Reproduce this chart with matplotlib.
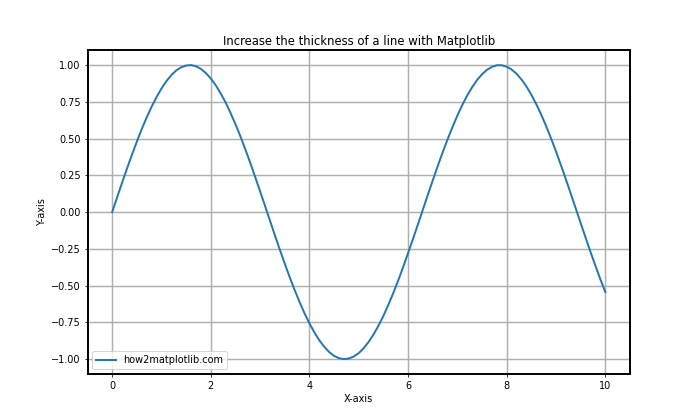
import matplotlib.pyplot as plt

# Values
x_vals = [0.0, 0.1, 0.2, 0.3, 0.4, 0.5, 0.6, 0.7, 0.8, 0.9,
          1.0, 1.1, 1.2, 1.3, 1.4, 1.5, 1.6, 1.7, 1.8, 1.9,
          2.0, 2.1, 2.2, 2.3, 2.4, 2.5, 2.6, 2.7, 2.8, 2.9,
          3.0, 3.1, 3.2, 3.3, 3.4, 3.5, 3.6, 3.7, 3.8, 3.9,
          4.0, 4.1, 4.2, 4.3, 4.4, 4.5, 4.6, 4.7, 4.8, 4.9,
          5.0, 5.1, 5.2, 5.3, 5.4, 5.5, 5.6, 5.7, 5.8, 5.9,
          6.0, 6.1, 6.2, 6.3, 6.4, 6.5, 6.6, 6.7, 6.8, 6.9,
          7.0, 7.1, 7.2, 7.3, 7.4, 7.5, 7.6, 7.7, 7.8, 7.9,
          8.0, 8.1, 8.2, 8.3, 8.4, 8.5, 8.6, 8.7, 8.8, 8.9,
          9.0, 9.1, 9.2, 9.3, 9.4, 9.5, 9.6, 9.7, 9.8, 9.9,
          10.0]
y_vals = [0.000, 0.100, 0.199, 0.296, 0.389, 0.479, 0.565, 0.644, 0.717, 0.783,
          0.841, 0.891, 0.932, 0.964, 0.985, 0.997, 1.000, 0.992, 0.974, 0.946,
          0.909, 0.863, 0.808, 0.746, 0.675, 0.598, 0.516, 0.427, 0.335, 0.239,
          0.141, 0.042, -0.058, -0.158, -0.256, -0.351, -0.443, -0.530, -0.612, -0.688,
          -0.757, -0.818, -0.872, -0.916, -0.952, -0.978, -0.994, -1.000, -0.996, -0.982,
          -0.959, -0.926, -0.883, -0.832, -0.773, -0.706, -0.631, -0.551, -0.465, -0.374,
          -0.279, -0.182, -0.083, 0.017, 0.117, 0.215, 0.312, 0.405, 0.494, 0.578,
          0.657, 0.729, 0.794, 0.850, 0.899, 0.938, 0.968, 0.988, 0.999, 0.999,
          0.989, 0.970, 0.941, 0.902, 0.855, 0.798, 0.734, 0.663, 0.585, 0.501,
          0.412, 0.319, 0.223, 0.124, 0.025, -0.075, -0.174, -0.272, -0.366, -0.458,
          -0.544]

fig, ax = plt.subplots(figsize=(10, 6), dpi=70)
ax.plot(x_vals, y_vals, linewidth=2, label='how2matplotlib.com')
ax.set_title('Increase the thickness of a line with Matplotlib', fontsize=12)
ax.set_xlabel('X-axis')
ax.set_ylabel('Y-axis')
ax.grid(True, linewidth=1.5, color='#b0b0b0')
for spine in ax.spines.values():
    spine.set_linewidth(2)
ax.legend(loc='lower left')
plt.savefig('out.png')
